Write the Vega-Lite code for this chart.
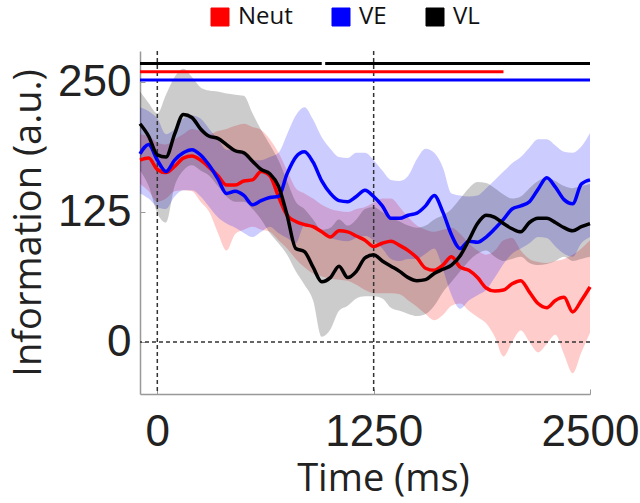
{
"$schema":"https://vega.github.io/schema/vega-lite/v6.json",
"autosize":{"type":"none"},
"padding":{"left":140,"top":51,"right":50,"bottom":109},
"width":450,"height":343,
"config":{"view":{"stroke":null},"font":"Open Sans",
"axis":{"grid":false,"domainColor":"#999999","tickColor":"#999999","labelColor":"#222222","titleColor":"#222222","labelFont":"Liberation Sans","labelFontSize":44,"titleFont":"Open Sans","titleFontSize":38,"titleFontWeight":"normal","tickSize":-5,"domainWidth":1.5}},
"datasets":{
"ts":[
{"s":"Neut","t":-100,"m":175,"lo":152,"hi":200},{"s":"Neut","t":-50,"m":177,"lo":145,"hi":198},{"s":"Neut","t":0,"m":166,"lo":135,"hi":192},{"s":"Neut","t":50,"m":163,"lo":138,"hi":190},{"s":"Neut","t":100,"m":169,"lo":145,"hi":195},{"s":"Neut","t":150,"m":177,"lo":146,"hi":200},{"s":"Neut","t":200,"m":179,"lo":145,"hi":205},{"s":"Neut","t":250,"m":175,"lo":135,"hi":203},{"s":"Neut","t":300,"m":168,"lo":125,"hi":200},{"s":"Neut","t":350,"m":160,"lo":105,"hi":203},{"s":"Neut","t":400,"m":151,"lo":88,"hi":205},{"s":"Neut","t":450,"m":151,"lo":104,"hi":208},{"s":"Neut","t":500,"m":155,"lo":108,"hi":210},{"s":"Neut","t":550,"m":156,"lo":111,"hi":207},{"s":"Neut","t":600,"m":164,"lo":108,"hi":204},{"s":"Neut","t":650,"m":160,"lo":106,"hi":195},{"s":"Neut","t":700,"m":140,"lo":98,"hi":182},{"s":"Neut","t":750,"m":122,"lo":90,"hi":165},{"s":"Neut","t":800,"m":116,"lo":80,"hi":148},{"s":"Neut","t":850,"m":113,"lo":72,"hi":143},{"s":"Neut","t":900,"m":111,"lo":66,"hi":138},{"s":"Neut","t":950,"m":106,"lo":63,"hi":132},{"s":"Neut","t":1000,"m":101,"lo":61,"hi":128},{"s":"Neut","t":1050,"m":107,"lo":60,"hi":126},{"s":"Neut","t":1100,"m":106,"lo":59,"hi":125},{"s":"Neut","t":1150,"m":102,"lo":55,"hi":128},{"s":"Neut","t":1200,"m":98,"lo":50,"hi":130},{"s":"Neut","t":1250,"m":92,"lo":47,"hi":134},{"s":"Neut","t":1300,"m":95,"lo":47,"hi":138},{"s":"Neut","t":1350,"m":97,"lo":47,"hi":138},{"s":"Neut","t":1400,"m":93,"lo":46,"hi":130},{"s":"Neut","t":1450,"m":88,"lo":40,"hi":120},{"s":"Neut","t":1500,"m":81,"lo":34,"hi":112},{"s":"Neut","t":1550,"m":71,"lo":27,"hi":108},{"s":"Neut","t":1600,"m":69,"lo":21,"hi":106},{"s":"Neut","t":1650,"m":74,"lo":26,"hi":108},{"s":"Neut","t":1700,"m":82,"lo":35,"hi":110},{"s":"Neut","t":1750,"m":72,"lo":37,"hi":104},{"s":"Neut","t":1800,"m":69,"lo":30,"hi":95},{"s":"Neut","t":1850,"m":62,"lo":24,"hi":88},{"s":"Neut","t":1900,"m":52,"lo":18,"hi":84},{"s":"Neut","t":1950,"m":49,"lo":5,"hi":88},{"s":"Neut","t":2000,"m":50,"lo":-14,"hi":98},{"s":"Neut","t":2050,"m":56,"lo":0,"hi":100},{"s":"Neut","t":2100,"m":59,"lo":11,"hi":88},{"s":"Neut","t":2150,"m":48,"lo":0,"hi":80},{"s":"Neut","t":2200,"m":37,"lo":-10,"hi":77},{"s":"Neut","t":2250,"m":33,"lo":-2,"hi":76},{"s":"Neut","t":2300,"m":40,"lo":7,"hi":78},{"s":"Neut","t":2350,"m":43,"lo":-12,"hi":80},{"s":"Neut","t":2400,"m":29,"lo":-30,"hi":84},{"s":"Neut","t":2450,"m":40,"lo":-10,"hi":90},{"s":"Neut","t":2500,"m":53,"lo":9,"hi":98},
{"s":"VE","t":-100,"m":181,"lo":143,"hi":226},{"s":"VE","t":-50,"m":190,"lo":138,"hi":222},{"s":"VE","t":0,"m":175,"lo":130,"hi":215},{"s":"VE","t":50,"m":164,"lo":128,"hi":200},{"s":"VE","t":100,"m":175,"lo":140,"hi":205},{"s":"VE","t":150,"m":182,"lo":146,"hi":215},{"s":"VE","t":200,"m":185,"lo":146,"hi":218},{"s":"VE","t":250,"m":180,"lo":140,"hi":215},{"s":"VE","t":300,"m":170,"lo":130,"hi":205},{"s":"VE","t":350,"m":157,"lo":120,"hi":195},{"s":"VE","t":400,"m":143,"lo":114,"hi":185},{"s":"VE","t":450,"m":145,"lo":110,"hi":185},{"s":"VE","t":500,"m":141,"lo":105,"hi":182},{"s":"VE","t":550,"m":132,"lo":101,"hi":175},{"s":"VE","t":600,"m":136,"lo":106,"hi":175},{"s":"VE","t":650,"m":139,"lo":111,"hi":178},{"s":"VE","t":700,"m":140,"lo":105,"hi":182},{"s":"VE","t":750,"m":162,"lo":100,"hi":200},{"s":"VE","t":800,"m":178,"lo":95,"hi":218},{"s":"VE","t":850,"m":183,"lo":112,"hi":226},{"s":"VE","t":900,"m":173,"lo":110,"hi":214},{"s":"VE","t":950,"m":155,"lo":105,"hi":197},{"s":"VE","t":1000,"m":143,"lo":100,"hi":186},{"s":"VE","t":1050,"m":136,"lo":98,"hi":178},{"s":"VE","t":1100,"m":135,"lo":97,"hi":177},{"s":"VE","t":1150,"m":140,"lo":100,"hi":182},{"s":"VE","t":1200,"m":146,"lo":102,"hi":182},{"s":"VE","t":1250,"m":140,"lo":98,"hi":175},{"s":"VE","t":1300,"m":131,"lo":90,"hi":165},{"s":"VE","t":1350,"m":119,"lo":80,"hi":156},{"s":"VE","t":1400,"m":119,"lo":78,"hi":155},{"s":"VE","t":1450,"m":122,"lo":80,"hi":160},{"s":"VE","t":1500,"m":124,"lo":80,"hi":176},{"s":"VE","t":1550,"m":131,"lo":85,"hi":186},{"s":"VE","t":1600,"m":141,"lo":90,"hi":182},{"s":"VE","t":1650,"m":125,"lo":70,"hi":168},{"s":"VE","t":1700,"m":103,"lo":45,"hi":143},{"s":"VE","t":1750,"m":90,"lo":32,"hi":141},{"s":"VE","t":1800,"m":97,"lo":40,"hi":140},{"s":"VE","t":1850,"m":96,"lo":45,"hi":141},{"s":"VE","t":1900,"m":101,"lo":50,"hi":148},{"s":"VE","t":1950,"m":109,"lo":62,"hi":156},{"s":"VE","t":2000,"m":118,"lo":75,"hi":164},{"s":"VE","t":2050,"m":128,"lo":85,"hi":172},{"s":"VE","t":2100,"m":131,"lo":90,"hi":178},{"s":"VE","t":2150,"m":135,"lo":95,"hi":187},{"s":"VE","t":2200,"m":147,"lo":101,"hi":195},{"s":"VE","t":2250,"m":158,"lo":100,"hi":195},{"s":"VE","t":2300,"m":149,"lo":92,"hi":189},{"s":"VE","t":2350,"m":137,"lo":85,"hi":183},{"s":"VE","t":2400,"m":133,"lo":82,"hi":182},{"s":"VE","t":2450,"m":152,"lo":95,"hi":188},{"s":"VE","t":2500,"m":156,"lo":101,"hi":201},
{"s":"VL","t":-100,"m":210,"lo":165,"hi":241},{"s":"VL","t":-50,"m":198,"lo":150,"hi":230},{"s":"VL","t":0,"m":180,"lo":124,"hi":220},{"s":"VL","t":50,"m":178,"lo":115,"hi":238},{"s":"VL","t":100,"m":200,"lo":150,"hi":255},{"s":"VL","t":150,"m":219,"lo":165,"hi":263},{"s":"VL","t":200,"m":216,"lo":170,"hi":255},{"s":"VL","t":250,"m":205,"lo":165,"hi":245},{"s":"VL","t":300,"m":198,"lo":160,"hi":242},{"s":"VL","t":350,"m":196,"lo":150,"hi":241},{"s":"VL","t":400,"m":190,"lo":140,"hi":239},{"s":"VL","t":450,"m":184,"lo":135,"hi":238},{"s":"VL","t":500,"m":182,"lo":135,"hi":237},{"s":"VL","t":550,"m":174,"lo":128,"hi":220},{"s":"VL","t":600,"m":166,"lo":118,"hi":204},{"s":"VL","t":650,"m":162,"lo":105,"hi":190},{"s":"VL","t":700,"m":150,"lo":95,"hi":175},{"s":"VL","t":750,"m":122,"lo":84,"hi":155},{"s":"VL","t":800,"m":90,"lo":68,"hi":135},{"s":"VL","t":850,"m":87,"lo":55,"hi":128},{"s":"VL","t":900,"m":72,"lo":40,"hi":118},{"s":"VL","t":950,"m":58,"lo":5,"hi":108},{"s":"VL","t":1000,"m":62,"lo":12,"hi":110},{"s":"VL","t":1050,"m":73,"lo":30,"hi":118},{"s":"VL","t":1100,"m":62,"lo":35,"hi":112},{"s":"VL","t":1150,"m":68,"lo":42,"hi":118},{"s":"VL","t":1200,"m":81,"lo":44,"hi":128},{"s":"VL","t":1250,"m":84,"lo":44,"hi":130},{"s":"VL","t":1300,"m":78,"lo":42,"hi":125},{"s":"VL","t":1350,"m":73,"lo":33,"hi":120},{"s":"VL","t":1400,"m":68,"lo":30,"hi":116},{"s":"VL","t":1450,"m":62,"lo":27,"hi":112},{"s":"VL","t":1500,"m":59,"lo":25,"hi":110},{"s":"VL","t":1550,"m":60,"lo":27,"hi":112},{"s":"VL","t":1600,"m":66,"lo":35,"hi":118},{"s":"VL","t":1650,"m":70,"lo":48,"hi":122},{"s":"VL","t":1700,"m":74,"lo":58,"hi":128},{"s":"VL","t":1750,"m":83,"lo":68,"hi":138},{"s":"VL","t":1800,"m":98,"lo":78,"hi":148},{"s":"VL","t":1850,"m":114,"lo":85,"hi":154},{"s":"VL","t":1900,"m":122,"lo":88,"hi":153},{"s":"VL","t":1950,"m":120,"lo":82,"hi":148},{"s":"VL","t":2000,"m":114,"lo":78,"hi":142},{"s":"VL","t":2050,"m":109,"lo":80,"hi":138},{"s":"VL","t":2100,"m":106,"lo":82,"hi":140},{"s":"VL","t":2150,"m":115,"lo":76,"hi":148},{"s":"VL","t":2200,"m":119,"lo":74,"hi":155},{"s":"VL","t":2250,"m":119,"lo":75,"hi":158},{"s":"VL","t":2300,"m":115,"lo":78,"hi":155},{"s":"VL","t":2350,"m":110,"lo":82,"hi":150},{"s":"VL","t":2400,"m":107,"lo":78,"hi":148},{"s":"VL","t":2450,"m":111,"lo":80,"hi":150},{"s":"VL","t":2500,"m":114,"lo":82,"hi":152}
],
"sig":[
{"s":"VL","t0":-100,"t1":950,"y":268},{"s":"VL","t0":970,"t1":2500,"y":268},{"s":"Neut","t0":-100,"t1":2000,"y":260},{"s":"VE","t0":-100,"t1":2500,"y":252}
],
"vref":[{"t":0},{"t":1250}],
"href":[{"v":0}]
},
"layer":[
{"data":{"name":"ts"},"mark":{"type":"area","opacity":0.2,"interpolate":"monotone"},
"encoding":{
"x":{"field":"t","type":"quantitative","scale":{"domain":[-100,2500],"nice":false,"zero":false},"axis":{"values":[0,1250,2500],"format":"d","title":"Time (ms)","labelPadding":21,"titlePadding":6,"titleX":243,"labelFlush":false}},
"y":{"field":"lo","type":"quantitative","scale":{"domain":[-50,280],"nice":false,"zero":false},"axis":{"values":[0,125,250],"format":"d","title":"Information (a.u.)","labelPadding":14,"titlePadding":9}},
"y2":{"field":"hi"},
"color":{"field":"s","type":"nominal","scale":{"domain":["Neut","VE","VL"],"range":["#ff0000","#0000ff","#000000"]},
"legend":{"orient":"none","legendX":68,"legendY":-46,"direction":"horizontal","title":null,"symbolType":"square","symbolSize":324,"symbolOpacity":1,"symbolStrokeColor":"#333333","symbolStrokeWidth":1,"labelFontSize":24,"labelFont":"Open Sans","labelColor":"#111111","labelOffset":6,"columnPadding":36,"padding":0}}}},
{"data":{"name":"vref"},"mark":{"type":"rule","strokeDash":[4,3],"color":"#333333","strokeWidth":1.5},"encoding":{"x":{"field":"t","type":"quantitative"}}},
{"data":{"name":"href"},"mark":{"type":"rule","strokeDash":[4,3],"color":"#333333","strokeWidth":1.5},"encoding":{"y":{"field":"v","type":"quantitative"}}},
{"data":{"name":"ts"},"mark":{"type":"line","strokeWidth":3.5,"interpolate":"monotone"},
"encoding":{"x":{"field":"t","type":"quantitative"},"y":{"field":"m","type":"quantitative"},"color":{"field":"s","type":"nominal","legend":null}}},
{"data":{"name":"sig"},"mark":{"type":"rule","strokeWidth":3},
"encoding":{"x":{"field":"t0","type":"quantitative"},"x2":{"field":"t1"},"y":{"field":"y","type":"quantitative"},"color":{"field":"s","type":"nominal","legend":null}}}
]
}
